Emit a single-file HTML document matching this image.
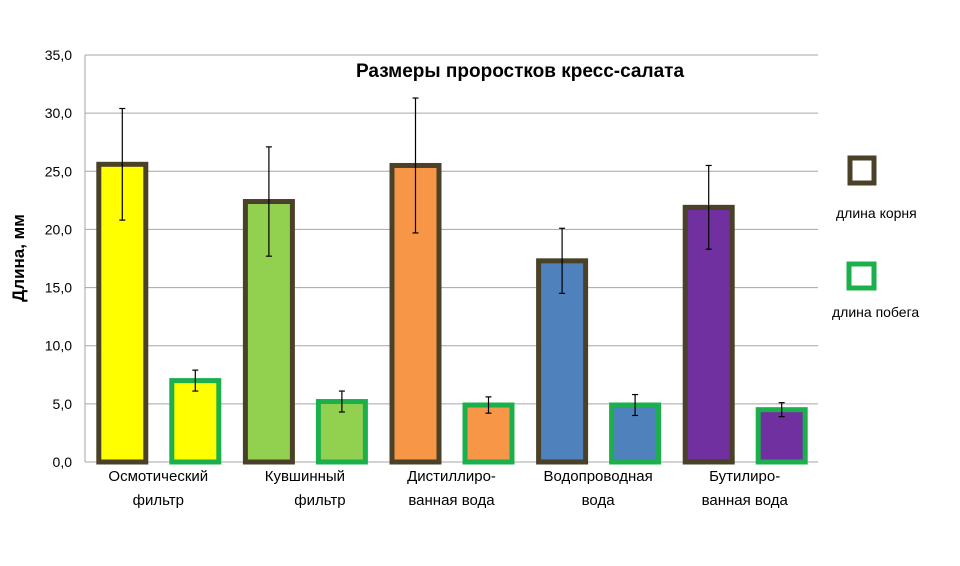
<!DOCTYPE html>
<html><head><meta charset="utf-8"><style>
body{margin:0;background:#fff;font-family:"Liberation Sans",sans-serif}
svg text{font-family:"Liberation Sans","DejaVu Sans",sans-serif}
</style></head><body>
<svg width="960" height="561">
<g id="grid"></g><g id="bars"></g>
<text x="520" y="77" text-anchor="middle" font-size="19" font-weight="bold">Размеры проростков кресс-салата</text>
<text transform="translate(24,258) rotate(-90)" text-anchor="middle" font-size="17" font-weight="bold">Длина, мм</text>
<rect x="850" y="158" width="24" height="25" fill="#fff" stroke="#4a4128" stroke-width="5"/>
<text x="836" y="218" font-size="14">длина корня</text>
<rect x="849" y="264" width="25" height="24" fill="#fff" stroke="#1bb04b" stroke-width="5"/>
<text x="832" y="317" font-size="14">длина побега</text>
</svg>
<script>
const categories=[["Осмотический","фильтр"],["Кувшинный","фильтр"],["Дистиллиро-","ванная вода"],["Водопроводная","вода"],["Бутилиро-","ванная вода"]];
const rootValues=[25.6,22.4,25.5,17.3,21.9];
const rootErrors=[4.8,4.7,5.8,2.8,3.6];
const shootValues=[7.0,5.2,4.9,4.9,4.5];
const shootErrors=[0.9,0.9,0.7,0.9,0.6];
const yTicks=[0,5,10,15,20,25,30,35];
const fills=["#ffff00","#92d050","#f79646","#4f81bd","#7030a0"];
const NS="http://www.w3.org/2000/svg";
const X0=85,X1=818,Y0=462,Y35=55;
const y=v=>Y0-(v/35)*(Y0-Y35);
const gw=(X1-X0)/categories.length;
function mk(t,a,p){const e=document.createElementNS(NS,t);for(const k in a)e.setAttribute(k,a[k]);p.appendChild(e);return e;}
const grid=document.getElementById('grid'),bars=document.getElementById('bars');
yTicks.forEach(t=>{
 const l=mk('line',{x1:X0,x2:X1,y1:y(t),y2:y(t),stroke:'#a6a6a6','stroke-width':1},grid);
 
 
 const tx=mk('text',{x:72,y:y(t)+5,'text-anchor':'end','font-size':14},grid);
 tx.textContent=t.toFixed(1).replace('.',',');
 
 
});
const ax=mk('line',{x1:X0,x2:X0,y1:Y35,y2:Y0,stroke:'#a6a6a6'},grid);


function err(cx,v,e){
 const g=mk('g',{stroke:'#000','stroke-width':1.2},bars);
 
 
 mk('line',{x1:cx,x2:cx,y1:y(v+e),y2:y(v-e)},g);
 mk('line',{x1:cx-3,x2:cx+3,y1:y(v+e),y2:y(v+e)},g);
 mk('line',{x1:cx-3,x2:cx+3,y1:y(v-e),y2:y(v-e)},g);
}
categories.forEach((c,i)=>{
 const gc=X0+gw*(i+0.5);
 const rc=gc-36, sc=gc+37, bw=47;
 const r=mk('rect',{x:rc-bw/2,y:y(rootValues[i]),width:bw,height:Y0-y(rootValues[i]),fill:fills[i],stroke:'#4a4128','stroke-width':5},bars);
 
 
 const s=mk('rect',{x:sc-bw/2,y:y(shootValues[i]),width:bw,height:Y0-y(shootValues[i]),fill:fills[i],stroke:'#1bb04b','stroke-width':5},bars);
 
 
 err(rc,rootValues[i],rootErrors[i]);
 err(sc,shootValues[i],shootErrors[i]);
 c.forEach((ln,j)=>{
  const t=mk('text',{x:gc+(i==1&&j==1?15:0),y:481+j*24,'text-anchor':'middle','font-size':15},bars);
  t.textContent=ln;
  
  
 });
});
</script>
</body></html>
